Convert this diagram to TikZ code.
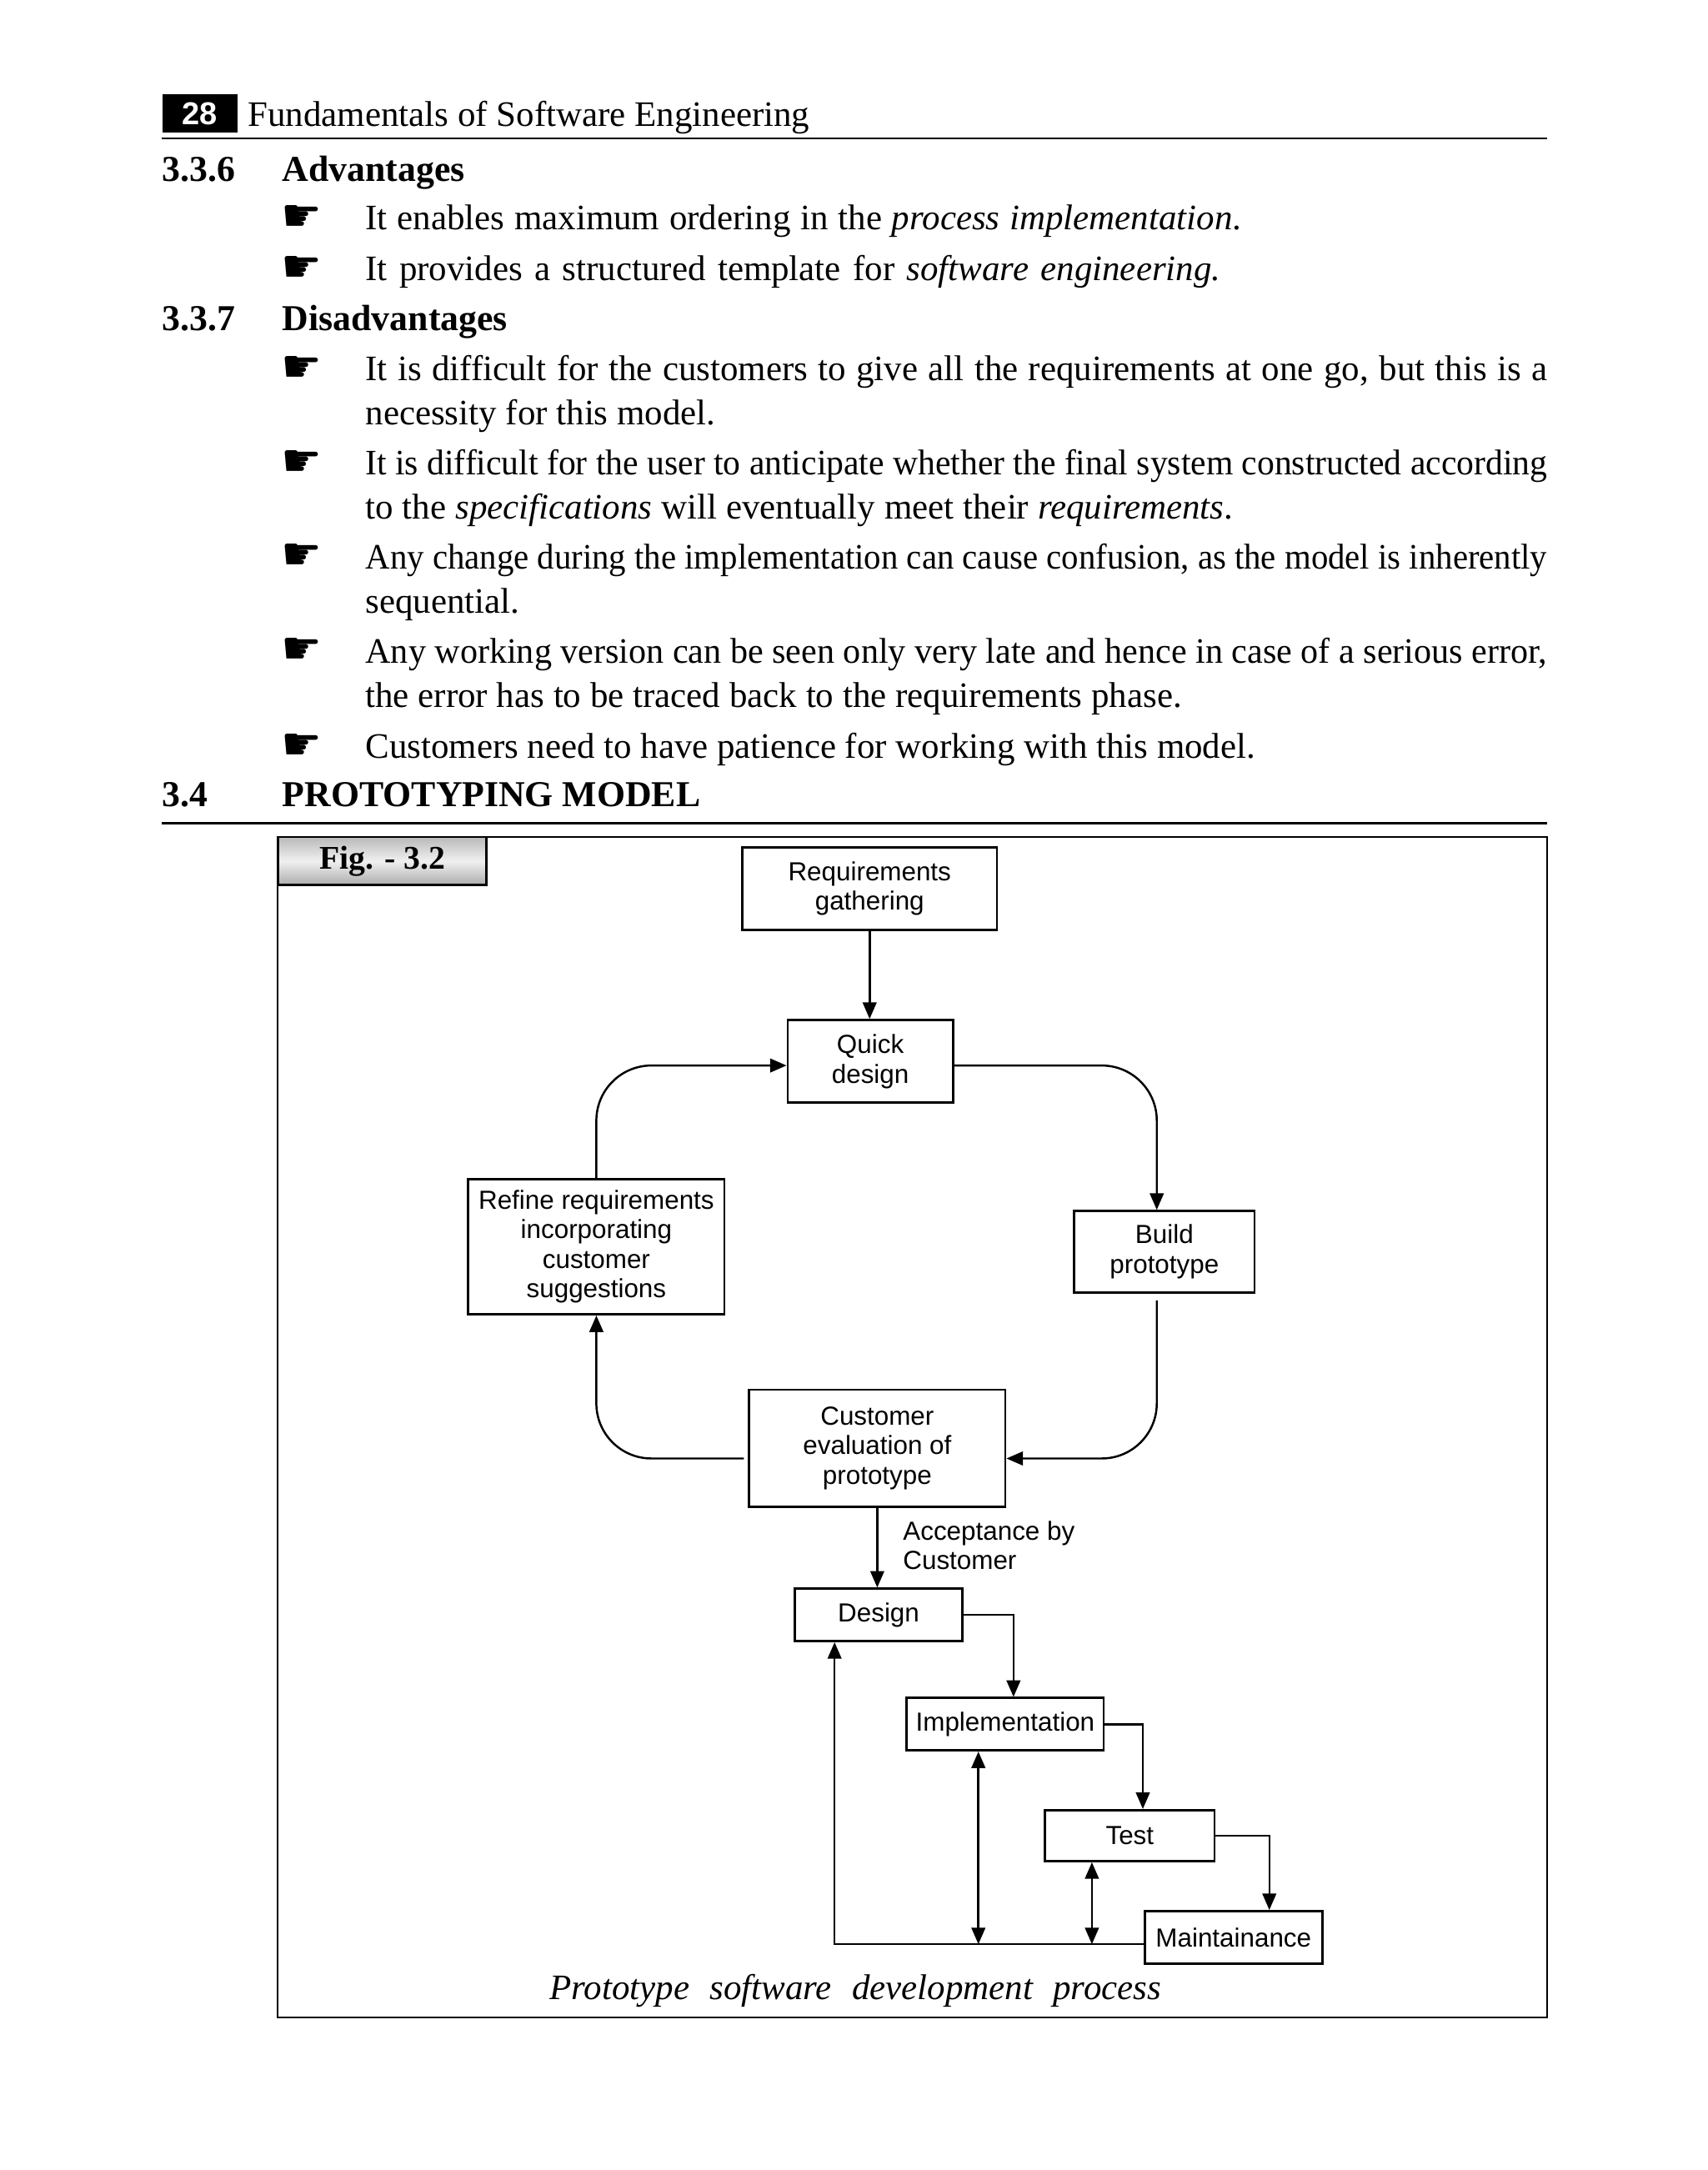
\documentclass[tikz,border=0pt]{standalone}
\usepackage{fontspec}
\usepackage{graphicx}
\setmainfont{Liberation Serif}
\setsansfont{Liberation Sans}
\newfontfamily\symfont{DejaVu Sans}
\usetikzlibrary{arrows.meta,calc}
\newlength\jlen
\newlength\jtarget
\newcommand\jline[2]{\jtarget=#1pt\jtarget=1.005\jtarget\settowidth\jlen{#2}\ifdim\jlen<\jtarget\makebox[\jtarget][s]{#2}\else\resizebox{\jtarget}{\height}{#2}\fi}
\begin{document}
\begin{tikzpicture}[x=1.005pt,y=-1.005pt,
  box/.style={draw, line width=1.7pt, inner sep=0pt, align=center, font=\sffamily\fontsize{19}{21.5}\selectfont},
  conn/.style={line width=1.5pt},
  arr/.style={conn, -{Triangle[length=12pt,width=10pt]}},
  darr/.style={conn, {Triangle[length=12pt,width=10pt]}-{Triangle[length=12pt,width=10pt]}},
  body/.style={anchor=base west, inner sep=0pt, font=\fontsize{26}{30}\selectfont},
  hd/.style={anchor=base west, inner sep=0pt, font=\bfseries\fontsize{26.5}{30}\selectfont},
  bul/.style={anchor=base west, inner sep=0pt, font=\symfont\fontsize{33}{33}\selectfont},
]
\useasboundingbox (0,0) rectangle (1233.83,1568.16);
\fill[white] (0,0) rectangle (1233.83,1568.16);

% header
\node[fill=black, minimum width=55pt, minimum height=28pt, anchor=north west, inner sep=0pt,
      text=white, font=\sffamily\bfseries\fontsize{23}{23}\selectfont] (pg) at (117,68) {28};
\node[anchor=base west, inner sep=0pt, font=\fontsize{26}{30}\selectfont] (title) at (179,91)
  {\jline{406}{Fundamentals of Software Engineering}};
\draw[line width=1.6pt] (117,100) -- (1118,100);

% 3.3.6
\node[hd] (s336) at (117,131) {3.3.6};
\node[hd] (adv) at (204,131) {Advantages};
\node[bul] (b1) at (203,167) {☛};
\node[body] (t1) at (264,166) {\jline{633}{It enables maximum ordering in the \textit{process implementation}.}};
\node[bul] (b2) at (203,204) {☛};
\node[body] (t2) at (264,203) {\jline{618}{It provides a structured template for \textit{software engineering.}}};

% 3.3.7
\node[hd] (s337) at (117,239) {3.3.7};
\node[hd] (dis) at (204,239) {Disadvantages};
\node[bul] (b3) at (203,276) {☛};
\node[body] (t3) at (264,275) {\jline{854}{It is difficult for the customers to give all the requirements at one go, but this is a}};
\node[body] (t4) at (264,307) {\jline{253}{necessity for this model.}};
\node[bul] (b4) at (203,344) {☛};
\node[body] (t5) at (264,343) {\jline{854}{It is difficult for the user to anticipate whether the final system constructed according}};
\node[body] (t6) at (264,375) {\jline{627}{to the \textit{specifications} will eventually meet their \textit{requirements}.}};
\node[bul] (b5) at (203,412) {☛};
\node[body] (t7) at (264,411) {\jline{854}{Any change during the implementation can cause confusion, as the model is inherently}};
\node[body] (t8) at (264,443) {sequential.};
\node[bul] (b6) at (203,480) {☛};
\node[body] (t9) at (264,479) {\jline{854}{Any working version can be seen only very late and hence in case of a serious error,}};
\node[body] (t10) at (264,511) {\jline{590}{the error has to be traced back to the requirements phase.}};
\node[bul] (b7) at (203,549) {☛};
\node[body] (t11) at (264,548) {\jline{643}{Customers need to have patience for working with this model.}};

% 3.4
\node[hd] (s34) at (117,583) {3.4};
\node[hd] (proto) at (204,583) {PROTOTYPING MODEL};
\draw[line width=1.6pt] (117,595) -- (1118,595);

% figure frame
\draw[line width=1.4pt] (200.5,605) rectangle (1118,1458);
\node[draw, line width=1.6pt, anchor=north west, minimum width=151pt, minimum height=35pt, inner sep=0pt,
      top color=gray!55, bottom color=gray!65, middle color=gray!12,
      font=\bfseries\fontsize{24}{28}\selectfont] (fig) at (200.5,604) {Fig. - 3.2};

% diagram boxes
\node[box, minimum width=185pt, minimum height=60pt] (req) at (628.5,642) {Requirements\\gathering};
\node[box, minimum width=120pt, minimum height=60pt] (qd) at (629,767) {Quick\\design};
\node[box, minimum width=186pt, minimum height=98pt] (ref) at (431,901) {Refine requirements\\incorporating\\customer\\suggestions};
\node[box, minimum width=131pt, minimum height=59pt] (bp) at (841.5,904.5) {Build\\prototype};
\node[box, minimum width=186pt, minimum height=85pt] (ce) at (634,1046.5) {Customer\\evaluation of\\prototype};
\node[box, minimum width=122pt, minimum height=38pt] (des) at (635,1167) {Design};
\node[box, minimum width=143pt, minimum height=38pt] (imp) at (726.5,1246) {Implementation};
\node[box, minimum width=123pt, minimum height=37pt] (test) at (816.5,1326.5) {Test};
\node[box, minimum width=129pt, minimum height=38pt] (mnt) at (891.5,1400) {Maintainance};

% connectors
\draw[arr] (req.south) -- (req.south |- qd.north);
\draw[arr, rounded corners=40pt] (ref.north) |- ([yshift=-3pt]qd.west);
\draw[arr, rounded corners=40pt] ([yshift=-3pt]qd.east) -| ([xshift=-5.5pt]bp.north);
\draw[arr, rounded corners=40pt] ([xshift=-5.5pt,yshift=-5pt]bp.south) |- ([yshift=-7.5pt]ce.east);
\draw[arr, rounded corners=40pt] ([xshift=-3pt,yshift=-7.5pt]ce.west) -| (ref.south);
\draw[arr] (ce.south) -- (ce.south |- des.north);
\node[anchor=north west, inner sep=0pt, align=left, font=\sffamily\fontsize{19}{21}\selectfont] (acc) at (652.5,1099) {Acceptance by\\Customer};
\draw[arr] (des.east) -| ([xshift=6pt]imp.north);
\draw[arr] (imp.east) -| ([xshift=9.5pt]test.north);
\draw[arr] (test.east) -| ([xshift=26pt]mnt.north);
\coordinate (bl) at ([yshift=-5pt]mnt.west);
\draw[arr] (bl) -| ([xshift=-32pt]des.south);
\draw[darr] ([xshift=-19.5pt]imp.south) -- ([xshift=-19.5pt]imp.south |- bl);
\draw[darr] ([xshift=-27.5pt]test.south) -- ([xshift=-27.5pt]test.south |- bl);

% caption
\node[anchor=base west, inner sep=0pt, font=\itshape\fontsize{26}{30}\selectfont] (cap) at (397,1445)
  {\jline{442}{Prototype software development process}};
\end{tikzpicture}
\end{document}
